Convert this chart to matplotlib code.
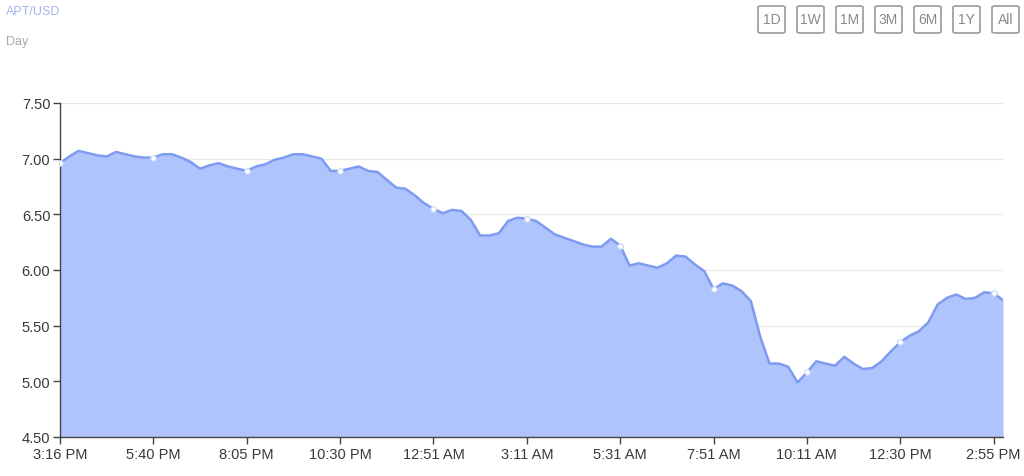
import matplotlib
matplotlib.use("Agg")
import matplotlib.pyplot as plt
import matplotlib.patches as mpatches
import numpy as np

# ------------------------------------------------------------------
# - data: APT/USD price, one reading every tenth of a tick interval
tick_labels = ['3:16 PM', '5:40 PM', '8:05 PM', '10:30 PM', '12:51 AM', '3:11 AM',
               '5:31 AM', '7:51 AM', '10:11 AM', '12:30 PM', '2:55 PM']

price = [
    6.96, 7.02, 7.07, 7.05, 7.03, 7.02, 7.06, 7.04, 7.02, 7.01,
    7.01, 7.04, 7.04, 7.01, 6.97, 6.91, 6.94, 6.96, 6.93, 6.91,
    6.89, 6.93, 6.95, 6.99, 7.01, 7.04, 7.04, 7.02, 7.00, 6.89,
    6.89, 6.91, 6.93, 6.89, 6.88, 6.81, 6.74, 6.73, 6.67, 6.60,
    6.55, 6.51, 6.54, 6.53, 6.45, 6.31, 6.31, 6.33, 6.44, 6.47,
    6.46, 6.44, 6.38, 6.32, 6.29, 6.26, 6.23, 6.21, 6.21, 6.28,
    6.22, 6.04, 6.06, 6.04, 6.02, 6.06, 6.13, 6.12, 6.05, 5.99,
    5.83, 5.88, 5.86, 5.81, 5.72, 5.40, 5.16, 5.16, 5.13, 4.99,
    5.08, 5.18, 5.16, 5.14, 5.22, 5.16, 5.11, 5.12, 5.18, 5.27,
    5.35, 5.41, 5.45, 5.53, 5.69, 5.75, 5.78, 5.74, 5.75, 5.80,
    5.79, 5.73,
]

buttons = ['1D', '1W', '1M', '3M', '6M', '1Y', 'All']

y_ticks = [4.50, 5.00, 5.50, 6.00, 6.50, 7.00, 7.50]

# ------------------------------------------------------------------
# - figure
W, H = 1024, 477
fig = plt.figure(figsize=(W / 100, H / 100), dpi=100)
plt.rcParams['font.family'] = ['Liberation Sans', 'DejaVu Sans']

ax = fig.add_axes([60 / W, 39 / H, 943 / W, 334 / H])

x = np.arange(len(price))
line_c = '#7e9bf2'
fill_c = '#afc3fc'

ax.fill_between(x, price, 4.5, color=fill_c, lw=0, zorder=1)
ax.plot(x, price, color=line_c, lw=1.8, zorder=3, solid_joinstyle='round')

# - white dots at the tick readings
tick_pos = np.arange(0, len(tick_labels) * 10, 10)
ax.plot(tick_pos, [price[i] for i in tick_pos], ls='none', marker='o', ms=4,
        mfc='white', mec='#c9d5fb', mew=0.8, zorder=4)

ax.set_xlim(0, len(price) - 1)
ax.set_ylim(4.5, 7.5)
ax.set_yticks(y_ticks)
ax.set_yticklabels(['%.2f' % v for v in y_ticks])
ax.set_xticks(tick_pos)
ax.set_xticklabels(tick_labels)

ax.grid(axis='y', color='#e8e8e8', lw=0.9, zorder=0)
ax.set_axisbelow(True)
for s in ['top', 'right']:
    ax.spines[s].set_visible(False)
for s in ['left', 'bottom']:
    ax.spines[s].set_color('#444444')
    ax.spines[s].set_linewidth(1.0)
ax.tick_params(axis='both', colors='#444444', labelcolor='#3a3a3a',
               labelsize=10.5, length=5, width=1.0, pad=2)

# - header texts
fig.text(6 / W, 1 - 12 / H, 'APT/USD', color='#a3b4ec', fontsize=9,
         va='center', ha='left')
fig.text(6 / W, 1 - 42 / H, 'Day', color='#a8a8a8', fontsize=9,
         va='center', ha='left')

# - range buttons, top right
bx0, bw, bh, step, by_top = 758, 27, 27, 39, 7
for i, b in enumerate(buttons):
    left = bx0 + i * step
    rect = mpatches.FancyBboxPatch(
        (left / W, 1 - (by_top + bh) / H), bw / W, bh / H,
        boxstyle='round,pad=0,rounding_size=0.003',
        transform=fig.transFigure, fc='white', ec='#9a9a9a', lw=1.2)
    fig.patches.append(rect)
    fig.text((left + bw / 2) / W, 1 - (by_top + bh / 2) / H, b,
             color='#8a8a8a', fontsize=10, ha='center', va='center')

fig.savefig('out.png', dpi=100)
